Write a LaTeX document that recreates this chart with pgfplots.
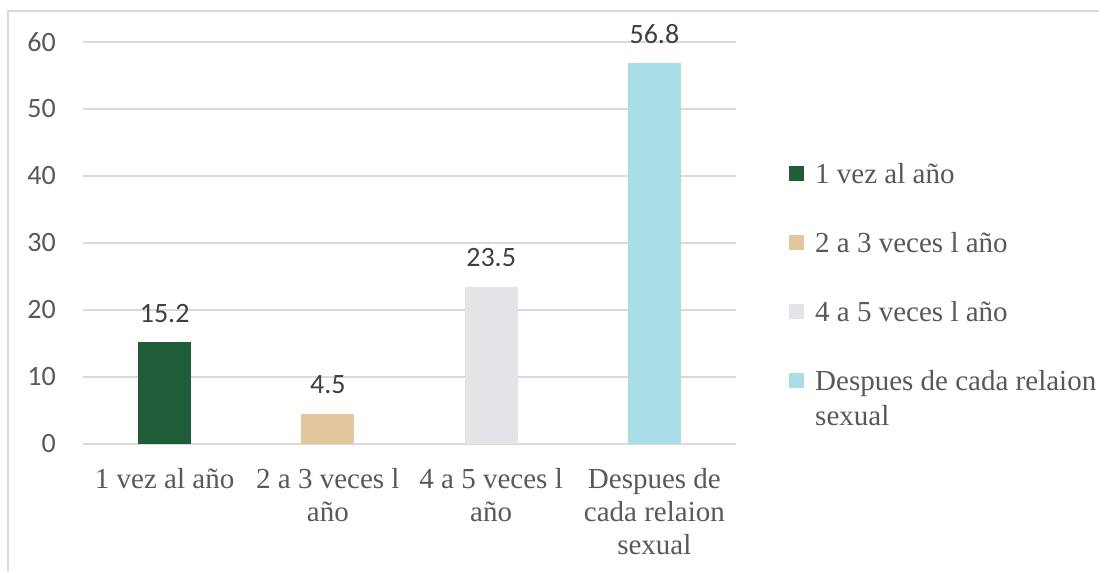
\documentclass[border=0pt]{standalone}
\usepackage{fontspec}
\setmainfont{Liberation Serif}
\newfontfamily\carlito{Carlito}
\usepackage{pgfplots}
\pgfplotsset{compat=1.18}

\definecolor{txtgray}{HTML}{595959}
\definecolor{lblgray}{HTML}{404040}
\definecolor{gridgray}{HTML}{D9D9D9}
\definecolor{framegray}{HTML}{D9D9D9}
\definecolor{cgreen}{HTML}{1F5C38}
\definecolor{ctan}{HTML}{E2C79E}
\definecolor{cmarble}{HTML}{E3E4E8}
\definecolor{ccyan}{HTML}{A9DEE9}

\begin{document}
\begin{tikzpicture}
\useasboundingbox (0,0) rectangle (1099pt,572pt);
\fill[white] (0,0) rectangle (1099pt,572pt);
\draw[framegray, line width=1.3pt] (8pt,-20pt) rectangle (1120pt,561pt);
\begin{axis}[
  at={(83pt,128pt)}, anchor=south west,
  scale only axis,
  width=653pt, height=402pt,
  xmin=-0.5, xmax=3.5,
  ymin=0, ymax=60,
  ytick={0,10,...,60},
  xtick={0,1,2,3},
  xticklabels={1 vez al año, {2 a 3 veces l\\año}, {4 a 5 veces l\\año}, {Despues de\\cada relaion\\sexual}},
  axis line style={draw=none},
  major tick length=0pt,
  ymajorgrids=true,
  grid style={draw=gridgray, line width=1.3pt},
  /pgf/number format/assume math mode=true,
  y tick label style={font=\carlito\fontsize{28}{32}\selectfont, text=txtgray, anchor=east, inner sep=0pt, xshift=-27pt},
  x tick label style={font=\fontsize{29}{33}\selectfont, text=txtgray, align=center, anchor=north, inner sep=0pt, yshift=-24pt},
  clip=false,
  point meta=explicit symbolic,
  nodes near coords,
  every node near coord/.append style={font=\carlito\fontsize{28}{32}\selectfont, text=lblgray, anchor=base, inner sep=0pt, yshift=20pt},
  legend image code/.code={\fill[#1] (0pt,2pt) rectangle (15pt,17pt);},
  legend style={at={(1.0812,0.7135)}, anchor=north west, draw=none, fill=none,
    inner sep=0pt, row sep=39.5pt, column sep=9pt,
    font=\fontsize{29}{35}\selectfont, text=txtgray,
    cells={anchor=base west, inner sep=0pt, text height=24pt, text depth=8pt}},
]
\addplot[ybar, bar width=53pt, bar shift=0pt, fill=cgreen, draw=none] coordinates {(0,15.2) [15.2]};
\addplot[ybar, bar width=53pt, bar shift=0pt, fill=ctan, draw=none] coordinates {(1,4.5) [4.5]};
\addplot[ybar, bar width=53pt, bar shift=0pt, fill=cmarble, draw=none] coordinates {(2,23.5) [23.5]};
\addplot[ybar, bar width=53pt, bar shift=0pt, fill=ccyan, draw=none] coordinates {(3,56.8) [56.8]};
\legend{1 vez al año, 2 a 3 veces l año, 4 a 5 veces l año, {\begin{tabular}[t]{@{}l@{}}Despues de cada relaion\\sexual\end{tabular}}}
\end{axis}
\end{tikzpicture}
\end{document}
